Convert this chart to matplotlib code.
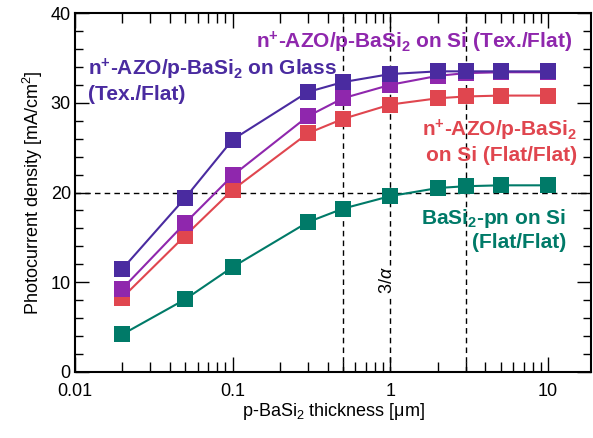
import numpy as np
import matplotlib
matplotlib.use('Agg')
from matplotlib import pyplot as plt
from matplotlib.ticker import LogLocator, FixedLocator, FixedFormatter, MultipleLocator, NullFormatter

plt.rcParams['font.family'] = ['Liberation Sans', 'DejaVu Sans']
plt.rcParams['mathtext.fontset'] = 'custom'
plt.rcParams['mathtext.rm'] = 'Liberation Sans'
plt.rcParams['mathtext.it'] = 'Liberation Sans:italic'
plt.rcParams['mathtext.bf'] = 'Liberation Sans:bold'

# thickness of p-BaSi2 [um]
thickness = [0.02, 0.05, 0.1, 0.3, 0.5, 1, 2, 3, 5, 10]

# photocurrent density [mA/cm2]
glass_tex = [11.5, 19.4, 25.9, 31.2, 32.3, 33.2, 33.5, 33.5, 33.5, 33.5]
si_tex = [9.3, 16.6, 21.9, 28.5, 30.5, 32.0, 33.0, 33.3, 33.4, 33.4]
si_flat = [8.3, 15.2, 20.3, 26.6, 28.2, 29.8, 30.5, 30.7, 30.8, 30.8]
pn_flat = [4.2, 8.1, 11.7, 16.7, 18.2, 19.6, 20.5, 20.7, 20.8, 20.8]

c_glass = '#4a2ba0'
c_si_tex = '#8f27ad'
c_si_flat = '#e0464f'
c_pn = '#007a68'

fig = plt.figure(figsize=(5.93, 4.38), dpi=100)
ax = fig.add_axes([0.1265, 0.1507, 0.870, 0.8196])

# guide lines
for xv in [0.5, 1, 3]:
    ax.axvline(xv, color='black', ls=(0, (4, 3)), lw=1.0, zorder=1)
ax.axhline(20, color='black', ls=(0, (4, 3)), lw=1.0, zorder=1)

ms = 11.5
for y, c in [(pn_flat, c_pn), (si_flat, c_si_flat), (si_tex, c_si_tex), (glass_tex, c_glass)]:
    ax.plot(thickness, y, color=c, lw=1.5, marker='s', ms=ms, mew=0, zorder=3)

ax.set_xscale('log')
ax.set_xlim(0.01, 18.7)
ax.set_ylim(0, 40)

ax.xaxis.set_major_locator(FixedLocator([0.01, 0.1, 1, 10]))
ax.xaxis.set_major_formatter(FixedFormatter(['0.01', '0.1', '1', '10']))
ax.xaxis.set_minor_locator(LogLocator(base=10, subs=np.arange(2, 10), numticks=20))
ax.xaxis.set_minor_formatter(NullFormatter())
ax.yaxis.set_major_locator(MultipleLocator(10))
ax.yaxis.set_minor_locator(MultipleLocator(2))

ax.tick_params(which='both', direction='in', top=True, right=True, labelsize=13, width=1.0)
ax.tick_params(axis='x', which='major', length=11, pad=8)
ax.tick_params(axis='x', which='minor', length=7)
ax.tick_params(axis='y', which='major', length=10, pad=3)
ax.tick_params(axis='y', which='minor', length=6)
for s in ax.spines.values():
    s.set_linewidth(1.5)

ax.set_xlabel('p-BaSi$_2$ thickness [μm]', fontsize=13, labelpad=1)
ax.set_ylabel('Photocurrent density [mA/cm$^2$]', fontsize=13, labelpad=4)

fs = 15
ax.text(0.0121, 32.5, 'n$^{\\mathbf{+}}$-AZO/p-BaSi$_{\\mathbf{2}}$ on Glass\n(Tex./Flat)',
        color=c_glass, fontsize=fs, fontweight='bold', ha='left', va='center', linespacing=1.2)
ax.text(14.1, 36.7, 'n$^{\\mathbf{+}}$-AZO/p-BaSi$_{\\mathbf{2}}$ on Si (Tex./Flat)',
        color=c_si_tex, fontsize=fs, fontweight='bold', ha='right', va='center')
ax.text(15.2, 25.7, 'n$^{\\mathbf{+}}$-AZO/p-BaSi$_{\\mathbf{2}}$\non Si (Flat/Flat)',
        color=c_si_flat, fontsize=fs, fontweight='bold', ha='right', va='center', linespacing=1.2)
ax.text(13.1, 15.9, 'BaSi$_{\\mathbf{2}}$-pn on Si\n(Flat/Flat)',
        color=c_pn, fontsize=fs, fontweight='bold', ha='right', va='center', linespacing=1.2)

ax.text(0.96, 10.2, '3/$\\alpha$', rotation=90, fontsize=13, ha='center', va='center',
        bbox=dict(facecolor='white', edgecolor='none', pad=0.5), zorder=2)

fig.savefig('out.png', dpi=100)
